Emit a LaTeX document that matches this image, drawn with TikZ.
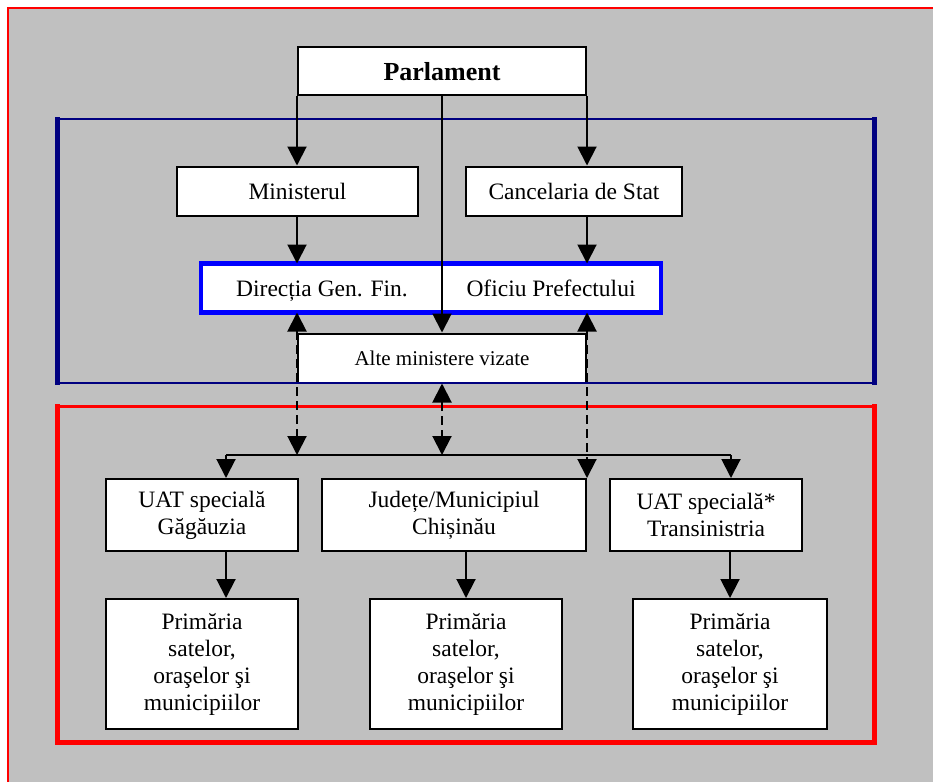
\documentclass[tikz,border=0pt]{standalone}
\usepackage{fontspec}
\setmainfont{Liberation Serif}
\usetikzlibrary{arrows.meta,positioning,calc}
\definecolor{bggray}{RGB}{192,192,192}
\definecolor{framenavy}{RGB}{0,0,128}

\begin{document}
\begin{tikzpicture}[x=1pt,y=-1pt,
    box/.style={draw, fill=white, line width=2pt, inner sep=0pt, align=center,
                font=\fontsize{23.5}{27}\selectfont},
    oneline/.style={text height=16pt, text depth=0pt},
    arr/.style={line width=2pt, -{Triangle[length=19pt,width=19pt]}},
    darr/.style={line width=2pt, {Triangle[length=19pt,width=19pt]}-{Triangle[length=19pt,width=19pt]},
                 dash pattern=on 9pt off 5pt}]
    \useasboundingbox (0,0) rectangle (933,782);
    \fill[bggray] (8,8) rectangle (933,782);
    \draw[red, line width=1.5pt] (933,8) -- (8,8) -- (8,782);

    % central level
    \node[box, oneline, text height=18pt, minimum width=288pt, minimum height=48pt, font=\fontsize{26}{30}\selectfont\bfseries] (parl) at (442,71) {Parlament};
    \node[box, oneline, minimum width=241pt, minimum height=49pt] (min) at (297.5,191) {Ministerul};
    \node[box, oneline, minimum width=216pt, minimum height=49pt] (canc) at (574,191) {Cancelaria de Stat};
    \node[box, oneline, draw=none, minimum width=240pt, minimum height=47pt] (dgf) at (322,288) {Direcția Gen. Fin.};
    \node[box, oneline, draw=none, minimum width=218pt, minimum height=47pt] (op) at (551,288) {Oficiu Prefectului};
    \draw[blue, line width=4.5pt] (dgf.north west) rectangle (op.south east);
    \node[box, oneline, text height=15pt, minimum width=288pt, minimum height=49pt, font=\fontsize{21}{25}\selectfont] (alte) at (442,358) {Alte ministere vizate};

    % local level
    \node[box, minimum width=192pt, minimum height=72pt] (uatg) at (202,515) {UAT specială\\Găgăuzia};
    \node[box, minimum width=264pt, minimum height=72pt] (jud) at (454,515) {Județe/Municipiul\\Chișinău};
    \node[box, minimum width=192pt, minimum height=72pt] (uatt) at (706,515) {UAT specială*\\Transinistria};
    \node[box, minimum width=192pt, minimum height=130pt] (p1) at (202,664) {Primăria\\satelor,\\oraşelor şi\\municipiilor};
    \node[box, minimum width=192pt, minimum height=130pt] (p2) at (466,664) {Primăria\\satelor,\\oraşelor şi\\municipiilor};
    \node[box, minimum width=194pt, minimum height=130pt] (p3) at (730,664) {Primăria\\satelor,\\oraşelor şi\\municipiilor};

    % frames
    \draw[framenavy, line width=2.5pt] (57,119) -- (874,119) (57,383) -- (874,383);
    \draw[framenavy, line width=5pt] (57,117) -- (57,385) (874,117) -- (874,385);
    \draw[red, line width=3pt] (57,406) -- (874,406);
    \draw[red, line width=5pt] (57,404) -- (57,742) -- (874,742) -- (874,404);

    % connectors
    \draw[arr] (parl.south west) -- (parl.south west |- min.north);
    \draw[arr] (parl.south east) -- (parl.south east |- canc.north);
    \draw[arr] (parl.south) -- (alte.north);
    \draw[arr] (parl.south west |- min.south) -- (parl.south west |- dgf.north);
    \draw[arr] (parl.south east |- canc.south) -- (parl.south east |- op.north);

    \coordinate (busl) at (226,455);
    \coordinate (busr) at (731,455);
    \draw[line width=2pt] (busl) -- (busr);
    \draw[arr] (busl) -- (busl |- uatg.north);
    \draw[arr] (busr) -- (busr |- uatt.north);
    \draw[darr] (parl.south west |- dgf.south) -- (parl.south west |- busl);
    \draw[darr] (alte.south) -- (alte.south |- busl);
    \draw[darr] (parl.south east |- op.south) -- (jud.north east);

    \draw[arr] (busl |- uatg.south) -- (busl |- p1.north);
    \draw[arr] (p2.north |- jud.south) -- (p2.north);
    \draw[arr] (p3.north |- uatt.south) -- (p3.north);
\end{tikzpicture}
\end{document}
